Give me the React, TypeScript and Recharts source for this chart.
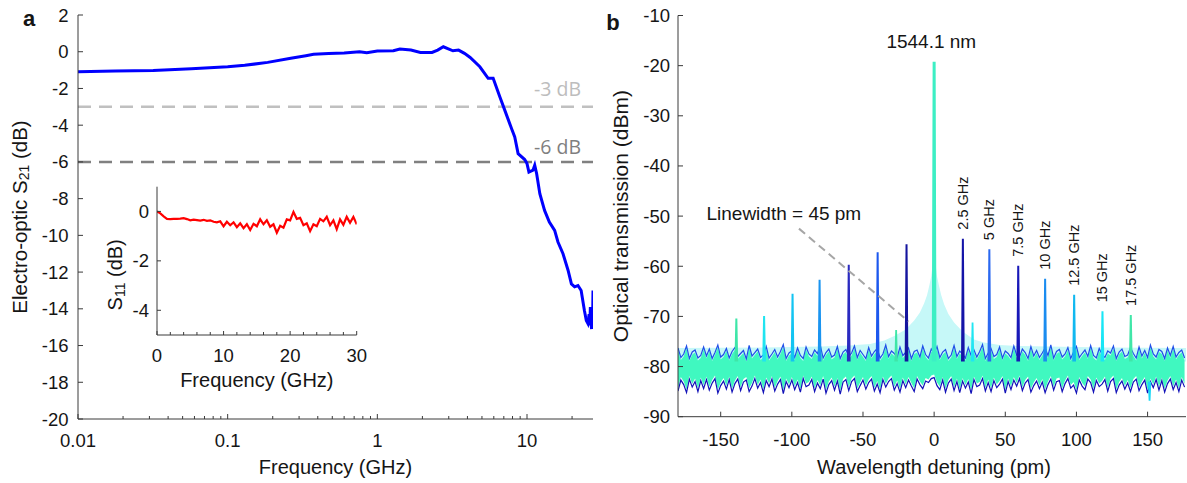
import {
  Area,
  ComposedChart,
  Line,
  LineChart,
  ReferenceDot,
  ReferenceLine,
  XAxis,
  YAxis,
} from "recharts";

// ---- panel a: electro-optic S21 (log frequency axis)
const s21Freq = [
  0.01, 0.0177, 0.0318, 0.0572, 0.1, 0.13, 0.185, 0.264, 0.333, 0.375, 0.473, 0.6, 0.76, 0.85,
  1.0, 1.28, 1.415, 1.676, 1.94, 2.32, 2.53, 2.76, 3.2, 3.49, 3.82, 4.17, 4.84, 5.5, 5.94, 6.58,
  7.1, 7.88, 8.28, 8.72, 9.65, 10.0, 10.3, 10.96, 11.26, 11.6, 12.18, 13.1, 14.1, 15.3, 16.1,
  17.4, 18.8, 19.8, 20.8, 21.9, 23.0, 24.2, 24.9, 25.5, 26.0, 26.3, 26.5, 26.8, 27.0, 27.2, 27.4,
  27.6,
];
const s21Db = [
  -1.09, -1.05, -1.02, -0.93, -0.82, -0.74, -0.58, -0.36, -0.22, -0.14, -0.09, -0.07, 0.0, -0.05,
  0.04, 0.05, 0.15, 0.09, -0.04, -0.04, 0.09, 0.27, 0.05, 0.09, -0.09, -0.31, -0.82, -1.45, -1.45,
  -2.45, -3.18, -4.18, -4.64, -5.55, -5.87, -6.09, -6.55, -6.45, -6.18, -6.64, -7.73, -8.64, -9.27,
  -9.73, -10.36, -11.0, -11.9, -12.64, -12.8, -12.73, -13.0, -14.1, -14.64, -14.8, -14.3, -14.9,
  -13.9, -14.8, -15.1, -14.2, -15.0, -13.0,
];
const logTicks = [
  0.01, 0.02, 0.03, 0.04, 0.05, 0.06, 0.07, 0.08, 0.09, 0.1, 0.2, 0.3, 0.4, 0.5, 0.6, 0.7, 0.8,
  0.9, 1, 2, 3, 4, 5, 6, 7, 8, 9, 10, 20,
];
const aYTicks = [-20, -18, -16, -14, -12, -10, -8, -6, -4, -2, 0, 2];

// inset: S11
const s11Freq = [
  0, 0.5, 1, 1.5, 2, 2.5, 3, 3.5, 4, 4.5, 5, 5.5, 6, 6.5, 7, 7.5, 8, 8.5, 9, 9.5, 10, 10.5, 11,
  11.5, 12, 12.5, 13, 13.5, 14, 14.5, 15, 15.5, 16, 16.5, 17, 17.5, 18, 18.5, 19, 19.5, 20, 20.5,
  21, 21.5, 22, 22.5, 23, 23.5, 24, 24.5, 25, 25.5, 26, 26.5, 27, 27.5, 28, 28.5, 29, 29.5, 30,
];
const s11Db = [
  0, -0.08, -0.2, -0.3, -0.31, -0.3, -0.3, -0.29, -0.27, -0.31, -0.36, -0.33, -0.35, -0.37, -0.34,
  -0.38, -0.36, -0.42, -0.44, -0.4, -0.6, -0.42, -0.56, -0.44, -0.64, -0.48, -0.68, -0.52, -0.75,
  -0.5, -0.6, -0.32, -0.52, -0.36, -0.62, -0.52, -0.86, -0.58, -0.66, -0.32, -0.36, -0.02, -0.3,
  -0.26, -0.56, -0.48, -0.8, -0.52, -0.6, -0.3, -0.4, -0.22, -0.56, -0.36, -0.72, -0.32, -0.54,
  -0.22, -0.46, -0.22, -0.52,
];
const insetXTicks = [0, 2, 4, 6, 8, 10, 12, 14, 16, 18, 20, 22, 24, 26, 28, 30];
const insetYTicks = [-4, -2, 0];

// ---- panel b: optical spectrum
const noiseX = [
  -180, -178, -176, -174, -172, -170, -168, -166, -164, -162,
  -160, -158, -156, -154, -152, -150, -148, -146, -144, -142,
  -140, -138, -136, -134, -132, -130, -128, -126, -124, -122,
  -120, -118, -116, -114, -112, -110, -108, -106, -104, -102,
  -100, -98, -96, -94, -92, -90, -88, -86, -84, -82,
  -80, -78, -76, -74, -72, -70, -68, -66, -64, -62,
  -60, -58, -56, -54, -52, -50, -48, -46, -44, -42,
  -40, -38, -36, -34, -32, -30, -28, -26, -24, -22,
  -20, -18, -16, -14, -12, -10, -8, -6, -4, -2,
  0, 2, 4, 6, 8, 10, 12, 14, 16, 18,
  20, 22, 24, 26, 28, 30, 32, 34, 36, 38,
  40, 42, 44, 46, 48, 50, 52, 54, 56, 58,
  60, 62, 64, 66, 68, 70, 72, 74, 76, 78,
  80, 82, 84, 86, 88, 90, 92, 94, 96, 98,
  100, 102, 104, 106, 108, 110, 112, 114, 116, 118,
  120, 122, 124, 126, 128, 130, 132, 134, 136, 138,
  140, 142, 144, 146, 148, 150, 152, 154, 156, 158,
  160, 162, 164, 166, 168, 170, 172, 174, 176,
];
const noiseHi = [
  -76.3, -78.2, -77.5, -75.9, -78.4, -77.1, -76.7, -78.3, -77.8, -76.1,
  -77.9, -76.5, -78.4, -77.2, -75.7, -78.1, -77.6, -76.4, -78.3, -77.0,
  -76.2, -78.0, -77.4, -76.8, -78.5, -75.8, -77.9, -77.2, -76.5, -78.2,
  -77.7, -76.0, -78.3, -77.5, -76.6, -78.1, -77.0, -75.6, -78.4, -77.3,
  -76.9, -78.2, -76.3, -77.8, -78.4, -76.1, -77.5, -78.0, -76.7, -77.4,
  -75.8, -78.3, -77.2, -76.5, -78.1, -77.7, -76.0, -78.4, -77.1, -76.6,
  -78.0, -77.3, -75.9, -78.2, -76.8, -77.6, -78.4, -76.2, -77.9, -77.0,
  -76.4, -78.3, -77.5, -75.7, -78.0, -76.9, -77.4, -78.2, -76.1, -77.8,
  -77.2, -76.3, -78.4, -77.0, -76.7, -78.1, -75.9, -77.6, -78.3, -76.5,
  -77.4, -76.0, -78.2, -77.1, -76.6, -78.4, -77.7, -75.8, -78.0, -76.9,
  -77.5, -78.3, -76.2, -77.8, -76.7, -78.1, -77.0, -75.6, -78.4, -77.3,
  -76.4, -78.0, -77.6, -76.1, -78.3, -76.9, -77.4, -78.2, -75.9, -77.7,
  -78.1, -76.5, -77.2, -78.4, -76.0, -77.9, -76.8, -78.2, -77.3, -76.3,
  -77.8, -75.7, -78.3, -77.0, -76.6, -78.1, -77.5, -76.2, -78.4, -77.1,
  -76.0, -78.2, -77.4, -76.7, -78.0, -75.8, -77.8, -78.3, -76.4, -77.6,
  -78.2, -76.9, -77.3, -75.9, -78.4, -77.1, -76.5, -78.0, -77.7, -76.2,
  -77.4, -78.3, -76.1, -77.9, -76.8, -78.2, -75.7, -77.5, -78.1, -76.6,
  -77.0, -78.4, -76.3, -77.8, -76.0, -78.1, -77.2, -76.7, -78.3,
];
const noiseLo = [
  -84.9, -82.7, -83.6, -85.2, -82.5, -84.1, -83.0, -85.0, -82.8, -84.4,
  -82.6, -84.7, -83.3, -82.4, -85.3, -83.8, -82.9, -84.5, -82.6, -85.1,
  -83.4, -82.5, -84.8, -83.1, -82.7, -85.0, -83.9, -82.4, -84.3, -83.2,
  -85.2, -82.8, -84.0, -82.5, -84.9, -83.5, -82.6, -85.4, -83.0, -84.2,
  -82.7, -84.6, -83.2, -85.1, -82.4, -84.0, -83.7, -82.6, -85.0, -83.3,
  -84.4, -82.5, -85.3, -83.6, -82.8, -84.7, -82.9, -85.5, -83.1, -82.6,
  -84.8, -83.0, -82.4, -85.0, -83.8, -82.7, -84.5, -83.2, -82.5, -84.9,
  -83.5, -85.2, -82.6, -84.1, -83.0, -82.4, -84.7, -83.4, -85.1, -82.8,
  -84.2, -82.7, -83.9, -85.0, -82.5, -83.6, -84.4, -82.9, -83.2, -82.4,
  -82.2, -83.8, -84.6, -82.7, -85.1, -83.3, -82.5, -84.8, -83.0, -85.2,
  -82.9, -84.3, -83.1, -85.4, -82.6, -84.0, -83.7, -82.4, -84.9, -83.2,
  -85.0, -82.8, -84.2, -83.5, -82.5, -85.3, -83.0, -84.6, -82.7, -83.9,
  -82.4, -84.8, -83.3, -82.6, -85.1, -83.8, -82.9, -84.4, -83.1, -85.2,
  -83.6, -82.5, -84.7, -83.0, -82.8, -85.0, -83.4, -82.4, -84.3, -83.7,
  -85.3, -82.7, -83.9, -84.6, -82.5, -83.2, -85.1, -82.8, -84.0, -83.5,
  -82.6, -84.9, -83.0, -82.4, -85.2, -83.7, -82.9, -84.5, -83.3, -85.0,
  -83.1, -82.5, -84.8, -83.6, -82.7, -85.3, -83.0, -84.2, -82.6, -84.7,
  -82.8, -85.1, -83.4, -82.5, -84.6, -83.2, -85.0, -82.7, -84.1,
];
const lorentzX = [
  -180, -120, -80, -60, -45, -35, -28, -20, -14, -10, -7, -5, -3.5, -2, -1, 0, 1, 2, 3.5, 5, 7, 10,
  14, 20, 28, 35, 46, 60, 80, 120, 177,
];
const lorentzDb = [
  -76.3, -76.2, -76.0, -75.8, -75.5, -74.8, -73.9, -72.6, -70.8, -69.2, -67.4, -65.8, -64.0, -62.0,
  -59.5, -57.0, -59.5, -62.0, -64.0, -65.8, -67.6, -69.5, -71.2, -73.0, -74.6, -75.2, -75.7, -75.9,
  -76.0, -76.2, -76.3,
];
const sidebandPos = [-139, -119.5, -99.5, -80.5, -60, -39.7, -19.4, 20.2, 38.8, 59.1, 78, 98.4, 118.3, 138.2];
const sidebandTop = [-70.4, -69.9, -65.5, -62.7, -59.7, -57.2, -55.6, -54.5, -56.6, -59.9, -62.5, -65.7, -69.0, -69.7];
const sidebandLabels = ["2.5 GHz", "5 GHz", "7.5 GHz", "10 GHz", "12.5 GHz", "15 GHz", "17.5 GHz"];
const carrierPos = 0;
const carrierTop = -19.2;
const bumpPos = [-26.7, 27, 151.4];
const bumpTop = [-72.7, -71.2, -86.8];
const bYTicks = [-90, -80, -70, -60, -50, -40, -30, -20, -10];
const bXTicks = [-150, -100, -50, 0, 50, 100, 150];

const sidebandColors = [
  "#3EE6A8", "#20E4F0", "#12C4F2", "#1A94F0", "#2A2AC0", "#1C58EE", "#14149E",
  "#1414A8", "#2A68F0", "#1818B8", "#1A8CF0", "#10B8F0", "#18E6F6", "#40E6A8",
];
const bumpColors = ["#3EE6A8", "#20E6F2", "#18D8F6"];

const FONT = "'Liberation Sans', Arial, Helvetica, sans-serif";
const INK = "#151515";
const FRAME = "#3a3a3a";

type Side = "bottom" | "top" | "left" | "right";
interface TickOpts {
  fmt?: (v: number) => string;
  isMajor?: (v: number) => boolean;
  len?: number;
  minorLen?: number;
  gap?: number;
  size?: number;
}

const makeTick = (side: Side, o: TickOpts = {}) => (p: any) => {
  const v = Number(p.payload?.value);
  const major = o.isMajor ? o.isMajor(v) : true;
  const l = major ? o.len ?? 5 : o.minorLen ?? 3;
  const { x, y } = p;
  const dx = side === "left" ? l : side === "right" ? -l : 0;
  const dy = side === "bottom" ? -l : side === "top" ? l : 0;
  const label = major && o.fmt ? o.fmt(v) : null;
  const gap = o.gap ?? 20;
  const size = o.size ?? 18.5;
  return (
    <g>
      <line x1={x} y1={y} x2={x + dx} y2={y + dy} stroke={FRAME} strokeWidth={1} />
      {label !== null &&
        (side === "bottom" ? (
          <text x={x} y={y + gap} textAnchor="middle" dominantBaseline="central" fontSize={size} fontFamily={FONT} fill={INK}>
            {label}
          </text>
        ) : (
          <text x={x - gap} y={y} textAnchor="end" dominantBaseline="central" fontSize={size} fontFamily={FONT} fill={INK}>
            {label}
          </text>
        ))}
    </g>
  );
};

const isDecade = (v: number) => Math.abs(Math.log10(v) - Math.round(Math.log10(v))) < 1e-9;
const fmtNum = (v: number) => String(v);

const axisCommon = {
  interval: 0 as const,
  tickSize: 0,
  tickMargin: 0,
  tickLine: false,
  axisLine: { stroke: FRAME, strokeWidth: 1 },
  allowDataOverflow: true,
};

function PanelA() {
  const s21 = s21Freq.map((f, i) => ({ x: f, y: s21Db[i] }));
  return (
    <ComposedChart width={600} height={483} margin={{ top: 15, right: 7, bottom: 0, left: 0 }}>
      <XAxis
        dataKey="x"
        type="number"
        scale="log"
        domain={[0.01, 27.6]}
        ticks={logTicks}
        height={64}
        {...axisCommon}
        tick={makeTick("bottom", { fmt: fmtNum, isMajor: isDecade, gap: 21 })}
        label={(p: any) => (
          <text x={p.viewBox.x + p.viewBox.width / 2} y={p.viewBox.y + 48} textAnchor="middle" dominantBaseline="central" fontSize={20} fontFamily={FONT} fill={INK}>
            Frequency (GHz)
          </text>
        )}
      />
      <XAxis
        xAxisId="top"
        orientation="top"
        type="number"
        scale="log"
        domain={[0.01, 27.6]}
        ticks={logTicks}
        height={0}
        {...axisCommon}
        tick={makeTick("top", { isMajor: isDecade })}
      />
      <YAxis
        type="number"
        domain={[-20, 2]}
        ticks={aYTicks}
        width={78}
        {...axisCommon}
        tick={makeTick("left", { fmt: fmtNum, gap: 9.5 })}
        label={(p: any) => {
          const cy = p.viewBox.y + p.viewBox.height / 2;
          return (
            <g fontFamily={FONT} fill={INK}>
              <text x={29} y={26} textAnchor="middle" fontSize={22} fontWeight="bold">
                a
              </text>
              <text x={19} y={cy} transform={`rotate(-90 19 ${cy})`} textAnchor="middle" dominantBaseline="central" fontSize={20.5}>
                Electro-optic S<tspan dy={5} fontSize={14}>21</tspan>
                <tspan dy={-5}> (dB)</tspan>
              </text>
            </g>
          );
        }}
      />
      <YAxis
        yAxisId="right"
        orientation="right"
        type="number"
        domain={[-20, 2]}
        ticks={aYTicks}
        width={0}
        {...axisCommon}
        tick={makeTick("right")}
      />
      <ReferenceLine
        y={-3}
        stroke="#C0C0C0"
        strokeWidth={2.5}
        strokeDasharray="13 8"
        label={(p: any) => (
          <text x={p.viewBox.x + p.viewBox.width - 12} y={p.viewBox.y - 18} textAnchor="end" dominantBaseline="central" fontSize={19.5} fontFamily="'Open Sans', sans-serif" fill="#BDBDBD">
            -3 dB
          </text>
        )}
      />
      <ReferenceLine
        y={-6}
        stroke="#808080"
        strokeWidth={2.5}
        strokeDasharray="13 8"
        label={(p: any) => (
          <text x={p.viewBox.x + p.viewBox.width - 12} y={p.viewBox.y - 15} textAnchor="end" dominantBaseline="central" fontSize={19.5} fontFamily="'Open Sans', sans-serif" fill="#7F7F7F">
            -6 dB
          </text>
        )}
      />
      <Line data={s21} dataKey="y" type="linear" stroke="#0000FF" strokeWidth={3} dot={false} isAnimationActive={false} />
    </ComposedChart>
  );
}

function Inset() {
  const s11 = s11Freq.map((f, i) => ({ x: f, y: s11Db[i] }));
  return (
    <LineChart width={290} height={225} margin={{ top: 16.7, right: 33.3, bottom: 0, left: 0 }}>
      <XAxis
        dataKey="x"
        type="number"
        domain={[0, 30]}
        ticks={insetXTicks}
        height={60}
        {...axisCommon}
        tick={makeTick("bottom", { fmt: fmtNum, isMajor: (v) => v % 10 === 0, len: 4, minorLen: 3, gap: 20 })}
        label={(p: any) => (
          <text x={p.viewBox.x + p.viewBox.width / 2} y={p.viewBox.y + 45} textAnchor="middle" dominantBaseline="central" fontSize={20} fontFamily={FONT} fill={INK}>
            Frequency (GHz)
          </text>
        )}
      />
      <XAxis
        xAxisId="top"
        orientation="top"
        type="number"
        domain={[0, 30]}
        ticks={insetXTicks}
        height={0}
        {...axisCommon}
        tick={makeTick("top", { isMajor: (v) => v % 10 === 0, len: 4, minorLen: 3 })}
      />
      <YAxis
        type="number"
        domain={[-5, 1]}
        ticks={insetYTicks}
        width={57}
        {...axisCommon}
        tick={makeTick("left", { fmt: fmtNum, gap: 8, len: 4 })}
        label={(p: any) => {
          const cy = p.viewBox.y + p.viewBox.height / 2 + 14;
          return (
            <text x={15} y={cy} transform={`rotate(-90 15 ${cy})`} textAnchor="middle" dominantBaseline="central" fontSize={20} fontFamily={FONT} fill={INK}>
              S<tspan dy={5} fontSize={14}>11</tspan>
              <tspan dy={-5}> (dB)</tspan>
            </text>
          );
        }}
      />
      <YAxis
        yAxisId="right"
        orientation="right"
        type="number"
        domain={[-5, 1]}
        ticks={insetYTicks}
        width={0}
        {...axisCommon}
        tick={makeTick("right", { len: 4 })}
      />
      <Line data={s11} dataKey="y" type="linear" stroke="#FF0000" strokeWidth={2.2} dot={false} isAnimationActive={false} />
    </LineChart>
  );
}

const spike = (pos: number, top: number, base: number) => [
  { x: pos - 0.6, y: base },
  { x: pos, y: top },
  { x: pos + 0.6, y: base },
];

function PanelB() {
  const lorentz = lorentzX.map((x, i) => ({ x, band: [-79, lorentzDb[i]] }));
  const hi = noiseX.map((x, i) => ({ x, y: noiseHi[i] }));
  const lo = noiseX.map((x, i) => ({ x, y: noiseLo[i] }));
  const band = noiseX.map((x, i) => ({ x, band: [noiseLo[i] + 0.6, noiseHi[i] - 0.5] }));
  return (
    <ComposedChart width={587} height={483} margin={{ top: 15.5, right: 1, bottom: 0, left: 0 }}>
      <XAxis
        dataKey="x"
        type="number"
        domain={[-180, 177]}
        ticks={bXTicks}
        height={66.3}
        {...axisCommon}
        tick={makeTick("bottom", { fmt: fmtNum, gap: 23 })}
        label={(p: any) => (
          <text x={p.viewBox.x + p.viewBox.width / 2 + 2} y={p.viewBox.y + 50} textAnchor="middle" dominantBaseline="central" fontSize={20} fontFamily={FONT} fill={INK}>
            Wavelength detuning (pm)
          </text>
        )}
      />
      <XAxis xAxisId="top" orientation="top" type="number" domain={[-180, 177]} ticks={bXTicks} height={0} {...axisCommon} tick={makeTick("top")} />
      <YAxis
        type="number"
        domain={[-90, -10]}
        ticks={bYTicks}
        width={78}
        {...axisCommon}
        tick={makeTick("left", { fmt: fmtNum, gap: 8 })}
        label={(p: any) => {
          const cy = p.viewBox.y + p.viewBox.height / 2;
          return (
            <g fontFamily={FONT} fill={INK}>
              <text x={13} y={30} textAnchor="middle" fontSize={22} fontWeight="bold">
                b
              </text>
              <text x={21} y={cy} transform={`rotate(-90 21 ${cy})`} textAnchor="middle" dominantBaseline="central" fontSize={21}>
                Optical transmission (dBm)
              </text>
            </g>
          );
        }}
      />
      <YAxis yAxisId="right" orientation="right" type="number" domain={[-90, -10]} ticks={bYTicks} width={0} {...axisCommon} tick={makeTick("right")} />

      <Area data={lorentz} dataKey="band" type="linear" stroke="none" fill="#C6F8F8" fillOpacity={1} isAnimationActive={false} />
      <Line data={hi} dataKey="y" type="linear" stroke="#1F4FE8" strokeWidth={1.2} dot={false} isAnimationActive={false} />
      <Line data={lo} dataKey="y" type="linear" stroke="#1212B8" strokeWidth={1.2} dot={false} isAnimationActive={false} />
      <Area data={band} dataKey="band" type="linear" stroke="none" fill="#40F8C0" fillOpacity={1} isAnimationActive={false} />

      {sidebandPos.map((p, i) => (
        <Line key={`sb${i}`} data={spike(p, sidebandTop[i], -79)} dataKey="y" type="linear" stroke={sidebandColors[i]} strokeWidth={2} dot={false} isAnimationActive={false} />
      ))}
      {bumpPos.map((p, i) => (
        <Line key={`bp${i}`} data={spike(p, bumpTop[i], i === 2 ? -83 : -79)} dataKey="y" type="linear" stroke={bumpColors[i]} strokeWidth={1.8} dot={false} isAnimationActive={false} />
      ))}
      <Line data={spike(carrierPos, carrierTop, -79)} dataKey="y" type="linear" stroke="#3CEFC4" strokeWidth={3} dot={false} isAnimationActive={false} />

      <ReferenceLine segment={[{ x: -95, y: -52.5 }, { x: -18, y: -71 }]} stroke="#A6A6A6" strokeWidth={2} strokeDasharray="8 5" />
      <ReferenceDot
        x={-2}
        y={-15.2}
        r={0}
        fill="none"
        stroke="none"
        label={(p: any) => (
          <text x={p.viewBox.x + p.viewBox.width / 2} y={p.viewBox.y + p.viewBox.height / 2} textAnchor="middle" dominantBaseline="central" fontSize={19} fontFamily={FONT} fill={INK}>
            1544.1 nm
          </text>
        )}
      />
      <ReferenceDot
        x={-160}
        y={-49.4}
        r={0}
        fill="none"
        stroke="none"
        label={(p: any) => (
          <text x={p.viewBox.x + p.viewBox.width / 2} y={p.viewBox.y + p.viewBox.height / 2} textAnchor="start" dominantBaseline="central" fontSize={19} fontFamily={FONT} fill={INK}>
            Linewidth = 45 pm
          </text>
        )}
      />
      {sidebandLabels.map((t, i) => (
        <ReferenceDot
          key={`lb${i}`}
          x={sidebandPos[i + 7]}
          y={sidebandTop[i + 7] + 1.8}
          r={0}
          fill="none"
          stroke="none"
          label={(p: any) => {
            const cx = p.viewBox.x + p.viewBox.width / 2;
            const cy = p.viewBox.y + p.viewBox.height / 2;
            return (
              <text x={cx} y={cy} transform={`rotate(-90 ${cx} ${cy})`} textAnchor="start" dominantBaseline="central" fontSize={14.5} fontFamily={FONT} fill={INK}>
                {t}
              </text>
            );
          }}
        />
      ))}
    </ComposedChart>
  );
}

export default function App() {
  return (
    <div style={{ position: "absolute", left: 0, top: 0, width: 1187, height: 483, background: "#fff", overflow: "hidden" }}>
      <div style={{ position: "absolute", left: 0, top: 0 }}>
        <PanelA />
      </div>
      <div style={{ position: "absolute", left: 100, top: 170 }}>
        <Inset />
      </div>
      <div style={{ position: "absolute", left: 600, top: 0 }}>
        <PanelB />
      </div>
    </div>
  );
}
